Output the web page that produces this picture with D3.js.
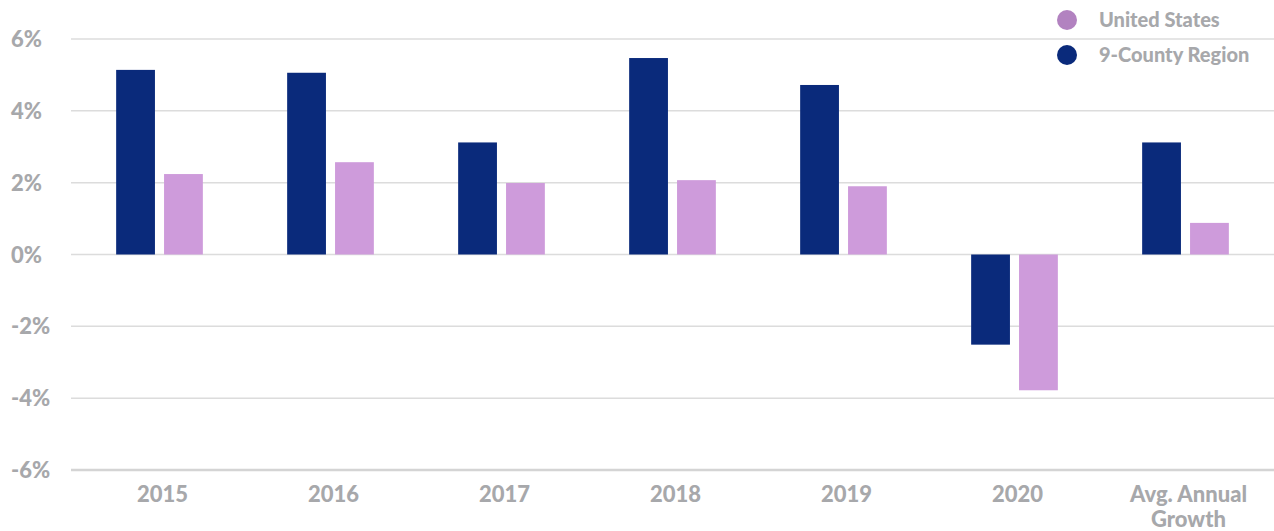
<!DOCTYPE html>
<html>
<head>
<meta charset="utf-8">
<script src="https://cdn.jsdelivr.net/npm/d3@7"></script>
<style>
  body { margin: 0; background: #fff; }
  text { font-family: Lato, "Open Sans", sans-serif; font-weight: 900; }
</style>
</head>
<body>
<div id="chart"></div>
<script>
// categories and series values (growth, %)
var categories = ["2015", "2016", "2017", "2018", "2019", "2020", "Avg. Annual Growth"];
var seriesNames = ["9-County Region", "United States"];
var regionValues = [5.14, 5.06, 3.12, 5.47, 4.72, -2.51, 3.12];
var usValues = [2.24, 2.57, 1.99, 2.07, 1.9, -3.78, 0.88];
var yTicks = [-6, -4, -2, 0, 2, 4, 6];

var svgWidth = 1274;
var svgHeight = 531;

var colors = { "9-County Region": "#0a2a7b", "United States": "#ce9bdb" };
var legendColors = { "United States": "#b282c0", "9-County Region": "#0a2a7b" };
var textColor = "#a7a8ab";

var svg = d3.select("#chart").append("svg")
  .attr("width", svgWidth)
  .attr("height", svgHeight);

var x0 = d3.scaleBand()
  .domain(categories)
  .range([74, 1271]);

var x1 = d3.scaleBand()
  .domain(seriesNames)
  .range([0, x0.bandwidth()])
  .paddingInner(0.19)
  .paddingOuter(0.88);

var yScale = d3.scaleLinear()
  .domain([-6, 6])
  .range([470, 39]);

// gridlines
svg.append("g").selectAll("line")
  .data(yTicks)
  .enter().append("line")
  .attr("x1", 71)
  .attr("x2", 1274)
  .attr("y1", d => yScale(d))
  .attr("y2", d => yScale(d))
  .attr("stroke", d => d === -6 ? "#d4d4d4" : "#dcdcdc")
  .attr("stroke-width", d => d === -6 ? 2.5 : 1.5);

// y tick labels
svg.append("g").selectAll("text")
  .data(yTicks)
  .enter().append("text")
  .attr("x", 11)
  .attr("y", d => yScale(d) + 8)
  .attr("font-size", "22px")
  .attr("fill", textColor)
  .text(d => d + "%");

var rows = categories.map(function(c, i) {
  return { cat: c, values: [
    { name: "9-County Region", value: regionValues[i] },
    { name: "United States", value: usValues[i] }
  ] };
});

var groups = svg.append("g").selectAll("g")
  .data(rows)
  .enter().append("g")
  .attr("transform", d => `translate(${x0(d.cat)},0)`);

groups.selectAll("rect")
  .data(d => d.values)
  .enter().append("rect")
  .attr("x", d => x1(d.name))
  .attr("width", x1.bandwidth())
  .attr("y", d => yScale(Math.max(0, d.value)))
  .attr("height", d => Math.abs(yScale(d.value) - yScale(0)))
  .attr("fill", d => colors[d.name]);

// x labels
var xLabels = svg.append("g").selectAll("text")
  .data(categories)
  .enter().append("text")
  .attr("x", d => x0(d) + x0.bandwidth() / 2 + 3)
  .attr("y", 502)
  .attr("text-anchor", "middle")
  .attr("font-size", "22px")
  .attr("fill", textColor);

xLabels.each(function(d) {
  var words = d === "Avg. Annual Growth" ? ["Avg. Annual", "Growth"] : [d];
  var el = d3.select(this);
  words.forEach(function(w, i) {
    el.append("tspan")
      .attr("x", el.attr("x"))
      .attr("dy", i === 0 ? 0 : 25)
      .text(w);
  });
});

// legend
var legendItems = ["United States", "9-County Region"];
var legend = svg.append("g").selectAll("g")
  .data(legendItems)
  .enter().append("g")
  .attr("transform", (d, i) => `translate(1067, ${20 + i * 35})`);

legend.append("circle")
  .attr("r", 10)
  .attr("fill", d => legendColors[d]);

legend.append("text")
  .attr("x", 32)
  .attr("y", 7)
  .attr("font-size", "20px")
  .attr("fill", textColor)
  .text(d => d);
</script>
</body>
</html>
